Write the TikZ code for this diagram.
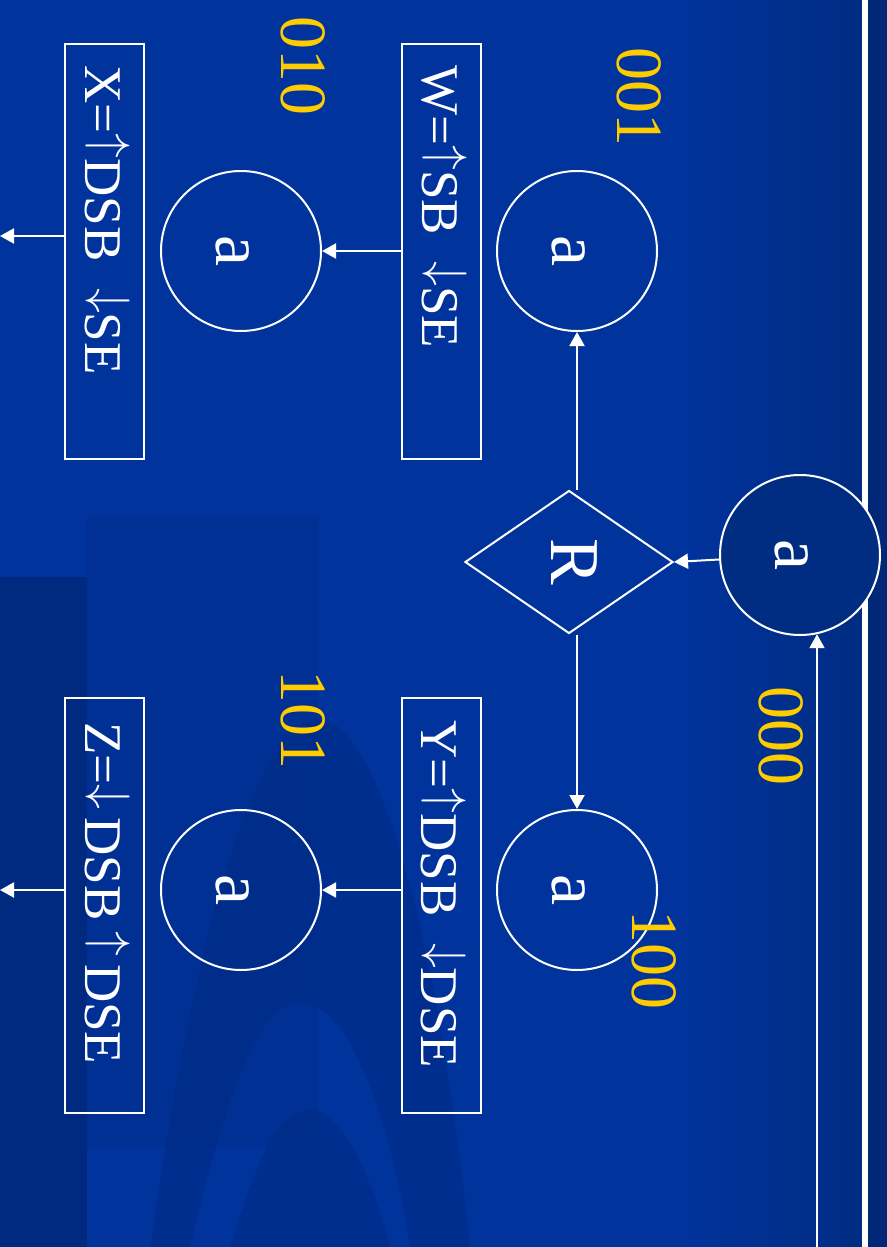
\documentclass[tikz,border=0pt]{standalone}
\usepackage{fontspec}
\setmainfont{Liberation Serif}
\usetikzlibrary{shapes.geometric,arrows.meta}
\definecolor{bgblue}{RGB}{0,51,156}
\definecolor{bgdark}{RGB}{0,42,128}
\definecolor{edgeblue}{RGB}{0,44,130}
\definecolor{stripblue}{RGB}{0,40,118}
\definecolor{labyellow}{RGB}{255,204,0}
\newcommand{\up}{\raisebox{0.19em}{$\uparrow$}}
\newcommand{\dn}{\raisebox{0.19em}{$\downarrow$}}
\tikzset{
  circ/.style={circle, draw=white, line width=1pt, minimum size=80pt, inner sep=0pt,
    text=white, font=\fontsize{35}{40}\selectfont, text height=24.5pt, text depth=0pt},
  decision/.style={diamond, draw=white, line width=1pt, minimum width=71.5pt, minimum height=104pt,
    inner sep=0pt, text=white, font=\fontsize{35}{40}\selectfont, text depth=5pt},
  actbox/.style={rectangle, draw=white, line width=1pt, minimum width=207.5pt, minimum height=39.5pt, inner sep=0pt},
  acttext/.style={anchor=base west, inner sep=0pt, text=white, font=\fontsize{26.5}{30}\selectfont},
  code/.style={anchor=base west, inner sep=0pt, text=labyellow, font=\fontsize{33}{38}\selectfont},
  arr/.style={draw=white, line width=1pt, -{Triangle[length=7pt,width=7.5pt]}}
}
\begin{document}
\begin{tikzpicture}[x=0.5pt,y=-0.5pt]
% background (image coordinates, y downward)
\fill[bgblue] (0,0) rectangle (887,1247);
\shade[left color=bgblue, right color=edgeblue] (680,0) rectangle (862,1247);
\fill[bgdark, opacity=0.25] (87,517) rectangle (318,1148);
\fill[bgdark, opacity=0.45, even odd rule]
  (150,1247) .. controls (200,900) and (260,720) .. (320,720) .. controls (380,720) and (440,950) .. (470,1247) -- cycle
  (190,1247) .. controls (230,1080) and (260,1003) .. (300,1003) .. controls (350,1003) and (390,1120) .. (410,1247) -- cycle;
\fill[bgdark, opacity=0.45]
  (230,1247) .. controls (260,1150) and (280,1110) .. (310,1110) .. controls (340,1110) and (370,1170) .. (390,1247) -- cycle;
\fill[bgdark] (0,577) rectangle (87,1247);
\fill[stripblue] (868,0) rectangle (887,1247);
\fill[white] (862,0) rectangle (867.5,1247);
\useasboundingbox (0,0) rectangle (887,1247);
% diagram drawn in the slide's own (landscape) frame, turned a quarter clockwise
\begin{scope}[x=0.5pt, y=0.5pt, rotate=-90, transform shape]
  \node[circ, fill=edgeblue] (c000) at (555,800) {a};
  \node[circ] (c001) at (251,577) {a};
  \node[circ] (c010) at (251,241) {a};
  \node[circ] (c100) at (890,577) {a};
  \node[circ] (c101) at (890,241) {a};
  \node[decision] (R) at (562,569) {R};
  \node[actbox] (W) at (251.5,441.5) {};
  \node[actbox] (X) at (251.5,104.5) {};
  \node[actbox] (Y) at (905.5,441.5) {};
  \node[actbox] (Z) at (905.5,104.5) {};
  \node[acttext] (Wt) at (65,422) {W=\up SB\ \ \dn SE};
  \node[acttext] (Xt) at (65,85) {X=\up DSB\ \ \dn SE};
  \node[acttext] (Yt) at (720,421) {Y=\up DSB\ \ \dn DSE};
  \node[acttext] (Zt) at (722,85) {Z=\dn\hspace{0.15em}DSB\hspace{0.2em}\up\hspace{0.15em}DSE};
  \node[code] (l001) at (47,617) {001};
  \node[code] (l010) at (16,281) {010};
  \node[code] (l000) at (686,759) {000};
  \node[code] (l101) at (670,281) {101};
  \node[code] (l100) at (910,632) {100};
  \coordinate (feed) at (1247,817);
  \coordinate (xout) at (236,0);
  \coordinate (zout) at (890,0);
  \draw[arr] (feed) -- (c000.12 |- feed);
  \draw[arr] (c000) -- (R.north);
  \draw[arr] (R.west |- c001) -- (c001.east);
  \draw[arr] (R.east |- c100) -- (c100.west);
  \draw[arr] (W.south -| c010) -- (c010.north);
  \draw[arr] (Y.south -| c101) -- (c101.north);
  \draw[arr] (X.south -| xout) -- (xout);
  \draw[arr] (Z.south -| zout) -- (zout);
\end{scope}
\end{tikzpicture}
\end{document}
